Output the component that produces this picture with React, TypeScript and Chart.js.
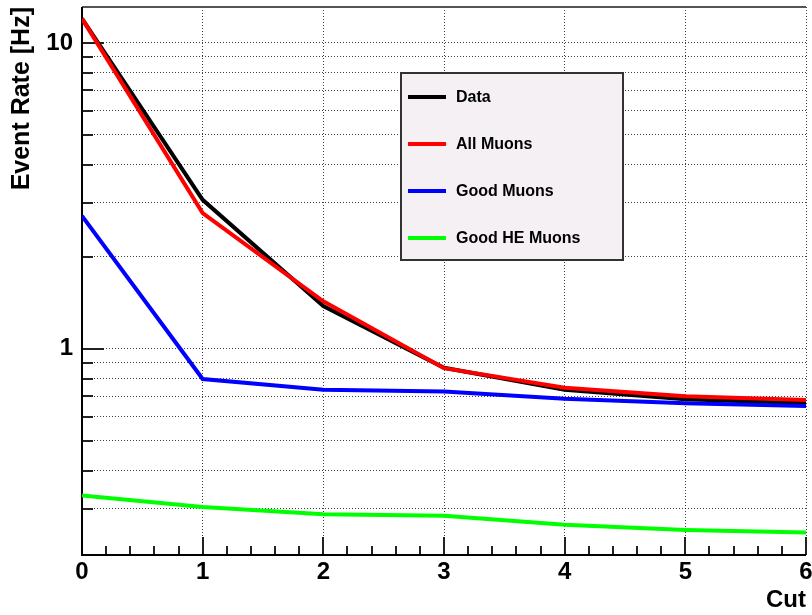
import React, { useEffect, useRef } from "react";
import { Chart, registerables } from "chart.js";

Chart.register(...registerables);

const cuts = [0, 1, 2, 3, 4, 5, 6];
const dataRate = [12.0, 3.07, 1.38, 0.867, 0.735, 0.685, 0.664];
const allMuons = [12.0, 2.78, 1.43, 0.865, 0.746, 0.7, 0.681];
const goodMuons = [2.72, 0.797, 0.735, 0.726, 0.687, 0.664, 0.651];
const goodHEMuons = [0.332, 0.304, 0.288, 0.285, 0.266, 0.256, 0.251];

const seriesLabels = ["Data", "All Muons", "Good Muons", "Good HE Muons"];
const seriesColors = ["#000000", "#ff0000", "#0000ff", "#00ff00"];

const yTickValues = [0.3, 0.4, 0.5, 0.6, 0.7, 0.8, 0.9, 1, 2, 3, 4, 5, 6, 7, 8, 9, 10];
const yLabelled = [1, 10];
const xTickValues = [0, 1, 2, 3, 4, 5, 6];
const xMinorStep = 0.2;

const FONT = "'Liberation Sans', Arial, sans-serif";

const decorPlugin = {
  id: "decor",
  beforeDatasetsDraw(chart: any) {
    const { ctx, chartArea } = chart;
    const xs = chart.scales.x;
    const ys = chart.scales.y;
    ctx.save();
    // top frame
    ctx.strokeStyle = "#555555";
    ctx.lineWidth = 2;
    ctx.beginPath();
    ctx.moveTo(chartArea.left, chartArea.top);
    ctx.lineTo(chartArea.right, chartArea.top);
    ctx.stroke();
    // y ticks inside
    ctx.strokeStyle = "#222222";
    ctx.lineWidth = 2;
    for (const v of yTickValues) {
      const y = Math.round(ys.getPixelForValue(v));
      const len = yLabelled.includes(v) ? 22 : 11;
      ctx.beginPath();
      ctx.moveTo(chartArea.left, y);
      ctx.lineTo(chartArea.left + len, y);
      ctx.stroke();
    }
    // x ticks inside
    const steps = Math.round((xs.max - xs.min) / xMinorStep);
    for (let i = 0; i <= steps; i++) {
      const v = xs.min + i * xMinorStep;
      const major = Math.abs(v - Math.round(v)) < 1e-6;
      const x = Math.round(xs.getPixelForValue(v));
      const len = major ? 18 : 9;
      ctx.beginPath();
      ctx.moveTo(x, chartArea.bottom);
      ctx.lineTo(x, chartArea.bottom - len);
      ctx.stroke();
    }
    // axis lines
    ctx.strokeStyle = "#000000";
    ctx.lineWidth = 2;
    ctx.beginPath();
    ctx.moveTo(chartArea.left, chartArea.top);
    ctx.lineTo(chartArea.left, chartArea.bottom);
    ctx.lineTo(chartArea.right, chartArea.bottom);
    ctx.stroke();
    ctx.restore();
  },
  afterDraw(chart: any) {
    const { ctx } = chart;
    const xs = chart.scales.x;
    const ys = chart.scales.y;
    // legend box anchored in data coordinates
    const left = Math.round(xs.getPixelForValue(2.64));
    const right = Math.round(xs.getPixelForValue(4.48));
    const top = Math.round(ys.getPixelForValue(7.98));
    const bottom = Math.round(ys.getPixelForValue(1.955));
    ctx.save();
    ctx.fillStyle = "#f4f0f4";
    ctx.fillRect(left, top, right - left, bottom - top);
    ctx.strokeStyle = "#333333";
    ctx.lineWidth = 2;
    ctx.strokeRect(left, top, right - left, bottom - top);
    const rowH = (bottom - top) / 4;
    chart.data.datasets.forEach((ds: any, i: number) => {
      const cy = Math.round(top + rowH * (i + 0.5) + 1);
      ctx.strokeStyle = ds.borderColor;
      ctx.lineWidth = 4;
      ctx.beginPath();
      ctx.moveTo(left + 7, cy);
      ctx.lineTo(left + 45, cy);
      ctx.stroke();
      ctx.fillStyle = "#000000";
      ctx.font = `bold 16px ${FONT}`;
      ctx.textBaseline = "middle";
      ctx.textAlign = "left";
      ctx.fillText(ds.label, left + 55, cy + 1);
    });
    ctx.restore();
  },
};

export default function App() {
  const canvasRef = useRef<HTMLCanvasElement | null>(null);

  useEffect(() => {
    if (!canvasRef.current) return;
    const series = [dataRate, allMuons, goodMuons, goodHEMuons];
    const orders = [4, 3, 2, 1];
    const chart = new Chart(canvasRef.current, {
      type: "line",
      data: {
        datasets: series.map((s, i) => ({
          label: seriesLabels[i],
          data: cuts.map((c, j) => ({ x: c, y: s[j] })),
          borderColor: seriesColors[i],
          backgroundColor: seriesColors[i],
          borderWidth: 4,
          pointRadius: 0,
          tension: 0,
          fill: false,
          order: orders[i],
        })),
      },
      options: {
        responsive: false,
        animation: false,
        layout: { padding: { left: 0, top: 7, right: 6, bottom: 0 } },
        plugins: {
          legend: { display: false },
          tooltip: { enabled: false },
        },
        scales: {
          x: {
            type: "linear",
            min: 0,
            max: 6,
            afterBuildTicks: (scale: any) => {
              scale.ticks = xTickValues.map((v) => ({ value: v }));
            },
            afterFit: (scale: any) => {
              scale.height = 60;
              scale.paddingLeft = 0;
              scale.paddingRight = 0;
              scale.paddingTop = 0;
              scale.paddingBottom = 0;
            },
            ticks: {
              autoSkip: false,
              maxRotation: 0,
              padding: 3,
              color: "#000000",
              font: { family: FONT, size: 24, weight: "bold" },
              callback: (v: any) => String(v),
            },
            grid: {
              color: "rgba(0,0,0,0.75)",
              lineWidth: 1,
              drawTicks: false,
            },
            border: { display: false, dash: [1, 2] },
            title: {
              display: true,
              text: "Cut",
              align: "end",
              color: "#000000",
              font: { family: FONT, size: 24, weight: "bold", lineHeight: 1 },
              padding: { top: 0, bottom: 3 },
            },
          },
          y: {
            type: "logarithmic",
            min: 0.212,
            max: 13.1,
            afterBuildTicks: (scale: any) => {
              scale.ticks = yTickValues.map((v) => ({ value: v }));
            },
            afterFit: (scale: any) => {
              scale.width = 82;
              scale.paddingLeft = 0;
              scale.paddingRight = 0;
              scale.paddingTop = 0;
              scale.paddingBottom = 0;
            },
            ticks: {
              autoSkip: false,
              padding: 9,
              color: "#000000",
              font: { family: FONT, size: 24, weight: "bold" },
              callback: (v: any) => (yLabelled.includes(Number(v)) ? String(v) : ""),
            },
            grid: {
              color: "rgba(0,0,0,0.75)",
              lineWidth: 1,
              drawTicks: false,
            },
            border: { display: false, dash: [1, 2] },
            title: {
              display: true,
              text: "Event Rate [Hz]",
              align: "end",
              color: "#000000",
              font: { family: FONT, size: 25, weight: "bold", lineHeight: 1 },
              padding: { top: 10, bottom: 0 },
            },
          },
        },
      },
      plugins: [decorPlugin],
    } as any);
    return () => chart.destroy();
  }, []);

  return (
    <div style={{ position: "absolute", left: 0, top: 0, width: 812, height: 615, background: "#ffffff" }}>
      <canvas ref={canvasRef} width={812} height={615} />
    </div>
  );
}
